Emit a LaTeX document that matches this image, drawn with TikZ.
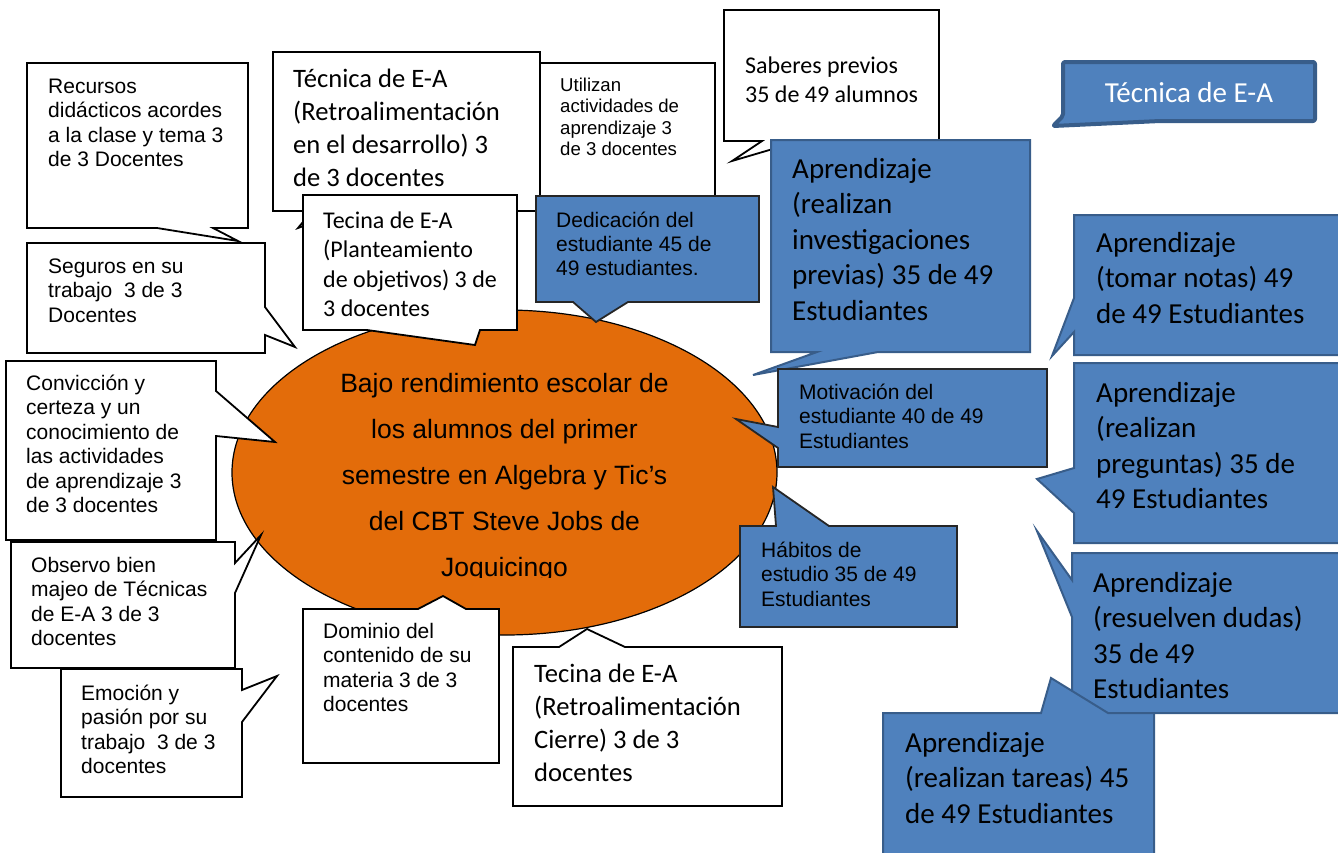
\documentclass[tikz,border=0pt]{standalone}
\usepackage{fontspec}
\newfontfamily\arialfont{Liberation Sans}
\newfontfamily\calibrifont{Carlito}
\usepackage{xcolor}
\definecolor{causeorange}{HTML}{E36C0A}
\definecolor{calloutblue}{HTML}{4F81BD}
\definecolor{calloutline}{HTML}{385D8A}
\tikzset{
	whitecall/.style={draw=black, fill=white, line width=1.8pt},
	bluecall/.style={draw=calloutline, fill=calloutblue, line width=2pt},
	darkcall/.style={draw=black!85, fill=calloutblue, line width=1.8pt},
	legendcall/.style={draw=calloutline, fill=calloutblue, line width=4pt, rounded corners=2pt, line join=round},
	problem/.style={draw=black, fill=causeorange, line width=1.2pt},
	% the node sits on the baseline of its last line
	boxtext/.style={inner sep=0pt, anchor=base west, align=left},
	arialtext/.style={boxtext, font=\arialfont\fontsize{21}{24.5}\selectfont},
	smalltext/.style={boxtext, font=\arialfont\fontsize{18.6}{21.5}\selectfont},
	calitext/.style={boxtext, font=\calibrifont\fontsize{26.6}{32.7}\selectfont},
	midtext/.style={boxtext, font=\calibrifont\fontsize{24}{29.5}\selectfont},
	bigtext/.style={boxtext, font=\calibrifont\fontsize{29}{35.5}\selectfont}
}

\begin{document}
\begin{tikzpicture}[x=1pt, y=-1pt]
	\useasboundingbox (0,0) rectangle (1338,852);

	% Central problem
	\draw[problem] (504.5,472.5) ellipse [x radius=272.5, y radius=162.5];
	\begin{scope}
		\clip (232,300) rectangle (777,577);
		\node[inner sep=0pt, anchor=base, align=center, font=\arialfont\fontsize{26.5}{46}\selectfont] (problema) at (504.5,576)
			{Bajo rendimiento escolar de\\los alumnos del primer\\semestre en Algebra y Tic’s\\del CBT Steve Jobs de\\Joquicingo};
	\end{scope}

	% Teacher callouts (top)
	\draw[whitecall] (500,63) rectangle (715,200);
	\node[smalltext] (utilizan) at (560,155.5) {Utilizan\\actividades de\\aprendizaje 3\\de 3 docentes};
	\draw[whitecall] (273,52) -- (540,52) -- (540,211) -- (345,211) -- (298,228) -- (312,211) -- (273,211) -- cycle;
	\node[calitext] (desarrollo) at (293,186) {Técnica de E-A\\(Retroalimentación\\en el desarrollo) 3\\de 3 docentes};
	\draw[whitecall] (27,63) -- (248,63) -- (248,228) -- (213,228) -- (238,241) -- (157,228) -- (27,228) -- cycle;
	\node[arialtext] (recursos) at (48,166.5) {Recursos\\didácticos acordes\\a la clase y tema 3\\de 3 Docentes};
	\draw[whitecall] (27,243) -- (265,243) -- (265,307) -- (295,347) -- (265,335) -- (265,353) -- (27,353) -- cycle;
	\node[arialtext] (seguros) at (48,322) {Seguros en su\\trabajo\ \ 3 de 3\\Docentes};
	\draw[whitecall] (303,195) -- (517,195) -- (517,330) -- (480,330) -- (475,345) -- (367,330) -- (303,330) -- cycle;
	\node[midtext] (planteamiento) at (323,316.5) {Tecina de E-A\\(Planteamiento\\de objetivos) 3 de\\3 docentes};

	% Student callouts (top)
	\draw[whitecall] (724,10) -- (939,10) -- (939,141) -- (800,141) -- (732,161) -- (762,141) -- (724,141) -- cycle;
	\node[midtext] (saberes) at (745,102.5) {Saberes previos\\35 de 49 alumnos};
	\draw[darkcall] (536,196) -- (759,196) -- (759,302) -- (628,302) -- (596,322) -- (573,302) -- (536,302) -- cycle;
	\node[arialtext, font=\arialfont\fontsize{21}{24}\selectfont] (dedicacion) at (556,275) {Dedicación del\\estudiante 45 de\\49 estudiantes.};
	\draw[bluecall] (771,140) -- (1030,140) -- (1030,352) -- (878,352) -- (753,375) -- (817,352) -- (771,352) -- cycle;
	\node[bigtext] (investigaciones) at (792,320) {Aprendizaje\\(realizan\\investigaciones\\previas) 35 de 49\\Estudiantes};

	% Legend
	\draw[legendcall] (1063,62) -- (1315,62) -- (1315,121) -- (1160,121) -- (1053,126) -- (1063,116) -- cycle;
	\node[inner sep=0pt, anchor=base, text=white, font=\calibrifont\fontsize{29}{35.5}\selectfont] (leyenda) at (1189,102) {Técnica de E-A};

	% Student callouts (right)
	\draw[bluecall] (1074,215) -- (1345,215) -- (1345,355) -- (1074,355) -- (1074,332) -- (1052,356) -- (1074,298) -- cycle;
	\node[bigtext] (notas) at (1096,323) {Aprendizaje\\(tomar notas) 49\\de 49 Estudiantes};
	\draw[darkcall] (778,369) -- (1047,369) -- (1047,467) -- (778,467) -- (778,448) -- (736,419) -- (778,427) -- cycle;
	\node[arialtext] (motivacion) at (799,448) {Motivación del\\estudiante 40 de 49\\Estudiantes};
	\draw[bluecall] (1074,363) -- (1345,363) -- (1345,543) -- (1074,543) -- (1074,513) -- (1037,479) -- (1074,468) -- cycle;
	\node[bigtext] (preguntas) at (1096,508.5) {Aprendizaje\\(realizan\\preguntas) 35 de\\49 Estudiantes};
	\draw[darkcall] (740,526) -- (776,526) -- (773,487) -- (829,526) -- (957,526) -- (957,627) -- (740,627) -- cycle;
	\node[arialtext] (habitos) at (761,606) {Hábitos de\\estudio 35 de 49\\Estudiantes};
	\draw[bluecall] (1072,553) -- (1345,553) -- (1345,713) -- (1072,713) -- (1072,617) -- (1037,531) -- (1072,580) -- cycle;
	\node[bigtext] (dudas) at (1093,698.5) {Aprendizaje\\(resuelven dudas)\\35 de 49\\Estudiantes};
	\draw[bluecall] (883,713) -- (1041,713) -- (1051,678) -- (1108,713) -- (1154,713) -- (1154,860) -- (883,860) -- cycle;
	\node[bigtext] (tareas) at (905,823) {Aprendizaje\\(realizan tareas) 45\\de 49 Estudiantes};

	% Teacher callouts (left and bottom)
	\draw[whitecall] (6,361) -- (216,361) -- (216,391) -- (275,442) -- (216,436) -- (216,540) -- (6,540) -- cycle;
	\node[arialtext] (conviccion) at (26,512.5) {Convicción y\\certeza y un\\conocimiento de\\las actividades\\de aprendizaje 3\\de 3 docentes};
	\draw[whitecall] (11,542) -- (235,542) -- (235,563) -- (261,535) -- (235,593) -- (235,668) -- (11,668) -- cycle;
	\node[arialtext] (observo) at (31,645.5) {Observo bien\\majeo de Técnicas\\de E-A 3 de 3\\docentes};
	\draw[whitecall] (61,669) -- (242,669) -- (242,690) -- (277,676) -- (242,722) -- (242,797) -- (61,797) -- cycle;
	\node[arialtext] (emocion) at (81,773.5) {Emoción y\\pasión por su\\trabajo\ \ 3 de 3\\docentes};
	\draw[whitecall] (303,609) -- (418,609) -- (443,596) -- (466,609) -- (499,609) -- (499,763) -- (303,763) -- cycle;
	\node[arialtext] (dominio) at (323,711.5) {Dominio del\\contenido de su\\materia 3 de 3\\docentes};
	\draw[whitecall] (513,647) -- (559,647) -- (587,629) -- (625,647) -- (782,647) -- (782,806) -- (513,806) -- cycle;
	\node[calitext] (cierre) at (534,781) {Tecina de E-A\\(Retroalimentación\\Cierre) 3 de 3\\docentes};
\end{tikzpicture}
\end{document}
